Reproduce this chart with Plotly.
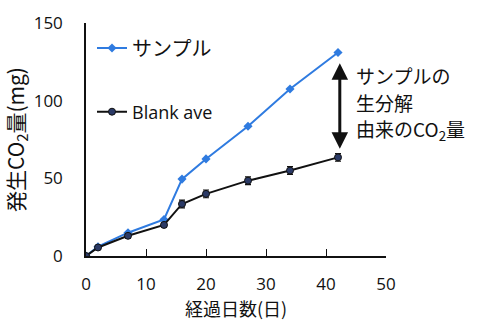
import plotly.graph_objects as go

days = [0, 2, 7, 13, 16, 20, 27, 34, 42]
sample_co2 = [0, 6, 15, 23.5, 49.5, 62.5, 83.5, 107.5, 131]
blank_co2 = [0, 5.5, 13, 20, 33.5, 40, 48.5, 55, 63.5]
blank_err = [0, 1, 1.5, 1.5, 2.5, 2.5, 2.5, 2.5, 2.5]

x_ticks = [0, 10, 20, 30, 40, 50]
y_ticks = [0, 50, 100, 150]

jp = "Noto Sans CJK JP"
num_font = "Open Sans"

fig = go.Figure()
fig.add_trace(go.Scatter(
    x=days, y=sample_co2, mode="lines+markers", name="サンプル",
    line=dict(color="#2f7be0", width=2),
    marker=dict(symbol="diamond", size=7, color="#2f7be0"),
    legend="legend", showlegend=True,
))
fig.add_trace(go.Scatter(
    x=days, y=blank_co2, mode="lines+markers", name="Blank ave",
    line=dict(color="#111111", width=2),
    marker=dict(symbol="circle", size=7, color="#2b3a66", line=dict(color="#111111", width=1)),
    error_y=dict(type="data", array=blank_err, color="#111111", thickness=1.2, width=3),
    legend="legend2", showlegend=True,
))

# double-headed arrow marking the gap between the two curves at the last day
fig.add_annotation(
    x=42.3, y=69, ax=42.3, ay=125, xref="x", yref="y", axref="x", ayref="y",
    text="", showarrow=True, arrowhead=2, startarrowhead=2, arrowside="end+start",
    arrowwidth=3, arrowsize=1.1, startarrowsize=1.1, arrowcolor="#111111",
)
label_lines = ["サンプルの", "生分解", "由来のCO<sub>2</sub>量"]
label_y = [116, 99, 81]
for txt, yy in zip(label_lines, label_y):
    fig.add_annotation(
        x=44.6, y=yy, xref="x", yref="y", text=txt, showarrow=False,
        xanchor="left", yanchor="middle",
        font=dict(family=jp, size=19, color="#111111"),
    )

fig.update_layout(
    width=482, height=325,
    margin=dict(l=86, r=96, t=23, b=69),
    plot_bgcolor="white", paper_bgcolor="white",
    showlegend=True,
    legend=dict(
        x=0.02, y=0.893, xanchor="left", yanchor="middle",
        font=dict(family=jp, size=20, color="#111111"),
        bgcolor="rgba(0,0,0,0)", itemwidth=30, visible=True,
    ),
    legend2=dict(
        x=0.02, y=0.618, xanchor="left", yanchor="middle",
        font=dict(family=num_font, size=18, color="#111111"),
        bgcolor="rgba(0,0,0,0)", itemwidth=30, visible=True,
    ),
    xaxis=dict(
        range=[0, 50], tickvals=x_ticks, ticks="inside", ticklen=7, tickcolor="#111111",
        showline=True, linecolor="#111111", linewidth=1.5, showgrid=False, zeroline=False,
        tickfont=dict(family=num_font, size=17, color="#111111"),
        ticklabelstandoff=12,
        title=dict(text="経過日数(日)", font=dict(family=jp, size=18, color="#111111"), standoff=4),
    ),
    yaxis=dict(
        range=[0, 150], tickvals=y_ticks, ticks="", showline=True, linecolor="#111111",
        linewidth=1.5, showgrid=False, zeroline=False,
        tickfont=dict(family=num_font, size=17, color="#111111"),
        ticklabelstandoff=18,
        title=dict(text="発生CO<sub>2</sub>量(mg)", font=dict(family=jp, size=21, color="#111111"), standoff=6),
    ),
)

fig.write_html("out.html")
